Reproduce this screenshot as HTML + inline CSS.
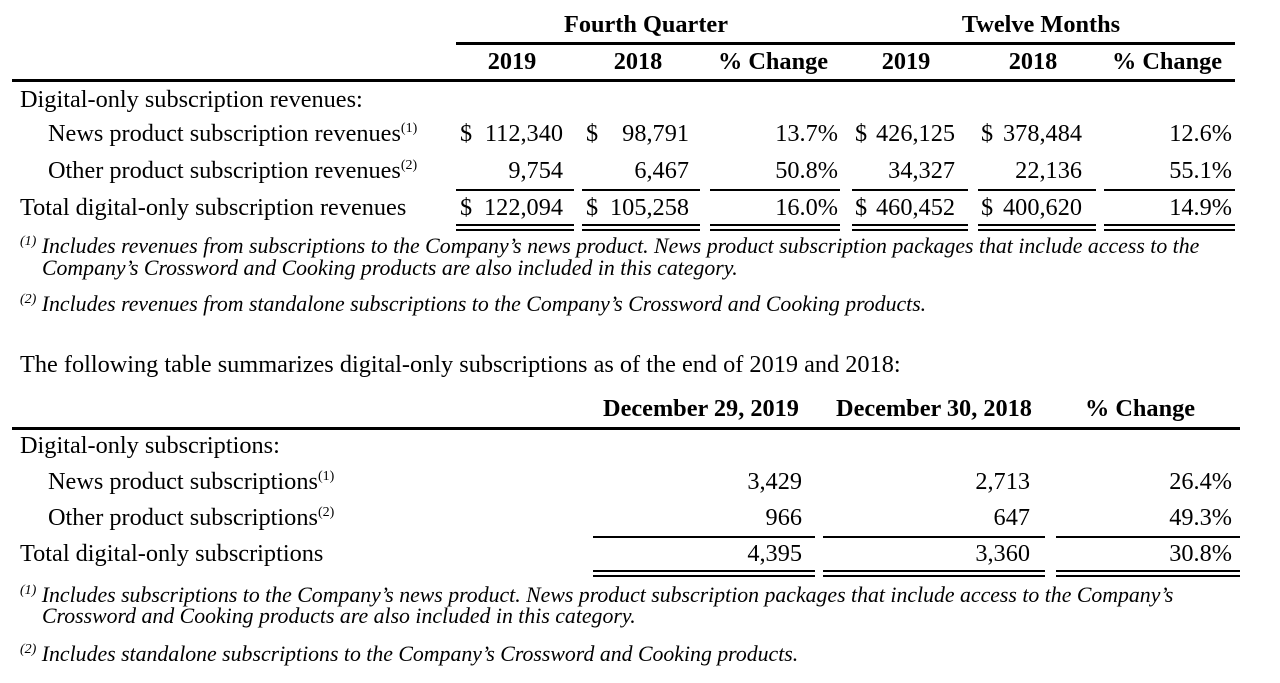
<!DOCTYPE html>
<html><head><style>
body{margin:0;background:#fff;width:1280px;height:683px;position:relative;overflow:hidden;font-family:"Liberation Serif",serif;color:#000}
.t{position:absolute;white-space:nowrap;font-size:24.3px;line-height:24px}
.c{transform:translateX(-50%)}
.r{text-align:right}
.b{font-weight:bold}
.i{font-style:italic;font-size:21.8px;line-height:21px}
.l{position:absolute;background:#000;height:2px}
sup{font-size:14px;vertical-align:top;position:relative;top:-5px}
</style></head><body>
<!-- table 1 -->
<div class="t b c" style="left:646px;top:13px">Fourth Quarter</div>
<div class="t b c" style="left:1041px;top:13px">Twelve Months</div>
<div class="l" style="left:456px;width:779px;top:42px;height:3px"></div>
<div class="t b c" style="left:512px;top:50px">2019</div>
<div class="t b c" style="left:638px;top:50px">2018</div>
<div class="t b c" style="left:773px;top:50px">% Change</div>
<div class="t b c" style="left:906px;top:50px">2019</div>
<div class="t b c" style="left:1033px;top:50px">2018</div>
<div class="t b c" style="left:1167px;top:50px">% Change</div>
<div class="l" style="left:12px;width:1223px;top:79px;height:3px"></div>

<div class="t" style="left:20px;top:88px">Digital-only subscription revenues:</div>
<div class="t" style="left:48px;top:122px">News product subscription revenues<sup>(1)</sup></div>
<div class="t" style="left:48px;top:159px">Other product subscription revenues<sup>(2)</sup></div>
<div class="t" style="left:20px;top:196px">Total digital-only subscription revenues</div>

<div class="t" style="left:460px;top:122px">$</div><div class="t r" style="right:717px;top:122px">112,340</div>
<div class="t" style="left:586px;top:122px">$</div><div class="t r" style="right:591px;top:122px">98,791</div>
<div class="t r" style="right:442px;top:122px">13.7%</div>
<div class="t" style="left:855px;top:122px">$</div><div class="t r" style="right:325px;top:122px">426,125</div>
<div class="t" style="left:981px;top:122px">$</div><div class="t r" style="right:198px;top:122px">378,484</div>
<div class="t r" style="right:48px;top:122px">12.6%</div>

<div class="t r" style="right:717px;top:159px">9,754</div>
<div class="t r" style="right:591px;top:159px">6,467</div>
<div class="t r" style="right:442px;top:159px">50.8%</div>
<div class="t r" style="right:325px;top:159px">34,327</div>
<div class="t r" style="right:198px;top:159px">22,136</div>
<div class="t r" style="right:48px;top:159px">55.1%</div>

<div class="t" style="left:460px;top:196px">$</div><div class="t r" style="right:717px;top:196px">122,094</div>
<div class="t" style="left:586px;top:196px">$</div><div class="t r" style="right:591px;top:196px">105,258</div>
<div class="t r" style="right:442px;top:196px">16.0%</div>
<div class="t" style="left:855px;top:196px">$</div><div class="t r" style="right:325px;top:196px">460,452</div>
<div class="t" style="left:981px;top:196px">$</div><div class="t r" style="right:198px;top:196px">400,620</div>
<div class="t r" style="right:48px;top:196px">14.9%</div>

<div class="l" style="left:456px;width:118px;top:189px"></div>
<div class="l" style="left:582px;width:118px;top:189px"></div>
<div class="l" style="left:710px;width:130px;top:189px"></div>
<div class="l" style="left:852px;width:116px;top:189px"></div>
<div class="l" style="left:978px;width:118px;top:189px"></div>
<div class="l" style="left:1104px;width:131px;top:189px"></div>
<div class="l" style="left:456px;width:118px;top:224px"></div><div class="l" style="left:456px;width:118px;top:229px"></div>
<div class="l" style="left:582px;width:118px;top:224px"></div><div class="l" style="left:582px;width:118px;top:229px"></div>
<div class="l" style="left:710px;width:130px;top:224px"></div><div class="l" style="left:710px;width:130px;top:229px"></div>
<div class="l" style="left:852px;width:116px;top:224px"></div><div class="l" style="left:852px;width:116px;top:229px"></div>
<div class="l" style="left:978px;width:118px;top:224px"></div><div class="l" style="left:978px;width:118px;top:229px"></div>
<div class="l" style="left:1104px;width:131px;top:224px"></div><div class="l" style="left:1104px;width:131px;top:229px"></div>

<div class="t i" style="left:20px;top:236px"><sup>(1)</sup> Includes revenues from subscriptions to the Company’s news product. News product subscription packages that include access to the</div>
<div class="t i" style="left:42px;top:258px">Company’s Crossword and Cooking products are also included in this category.</div>
<div class="t i" style="left:20px;top:294px"><sup>(2)</sup> Includes revenues from standalone subscriptions to the Company’s Crossword and Cooking products.</div>

<!-- table 2 -->
<div class="t" style="left:20px;top:353px">The following table summarizes digital-only subscriptions as of the end of 2019 and 2018:</div>
<div class="t b c" style="left:701px;top:397px">December 29, 2019</div>
<div class="t b c" style="left:934px;top:397px">December 30, 2018</div>
<div class="t b c" style="left:1140px;top:397px">% Change</div>
<div class="l" style="left:12px;width:1228px;top:427px;height:3px"></div>

<div class="t" style="left:20px;top:434px">Digital-only subscriptions:</div>
<div class="t" style="left:48px;top:470px">News product subscriptions<sup>(1)</sup></div>
<div class="t" style="left:48px;top:506px">Other product subscriptions<sup>(2)</sup></div>
<div class="t" style="left:20px;top:542px">Total digital-only subscriptions</div>

<div class="t r" style="right:478px;top:470px">3,429</div>
<div class="t r" style="right:250px;top:470px">2,713</div>
<div class="t r" style="right:48px;top:470px">26.4%</div>
<div class="t r" style="right:478px;top:506px">966</div>
<div class="t r" style="right:250px;top:506px">647</div>
<div class="t r" style="right:48px;top:506px">49.3%</div>
<div class="t r" style="right:478px;top:542px">4,395</div>
<div class="t r" style="right:250px;top:542px">3,360</div>
<div class="t r" style="right:48px;top:542px">30.8%</div>

<div class="l" style="left:593px;width:222px;top:536px"></div>
<div class="l" style="left:823px;width:222px;top:536px"></div>
<div class="l" style="left:1056px;width:184px;top:536px"></div>
<div class="l" style="left:593px;width:222px;top:570px"></div><div class="l" style="left:593px;width:222px;top:575px"></div>
<div class="l" style="left:823px;width:222px;top:570px"></div><div class="l" style="left:823px;width:222px;top:575px"></div>
<div class="l" style="left:1056px;width:184px;top:570px"></div><div class="l" style="left:1056px;width:184px;top:575px"></div>

<div class="t i" style="left:20px;top:585px"><sup>(1)</sup> Includes subscriptions to the Company’s news product. News product subscription packages that include access to the Company’s</div>
<div class="t i" style="left:42px;top:606px">Crossword and Cooking products are also included in this category.</div>
<div class="t i" style="left:20px;top:644px"><sup>(2)</sup> Includes standalone subscriptions to the Company’s Crossword and Cooking products.</div>
</body></html>
